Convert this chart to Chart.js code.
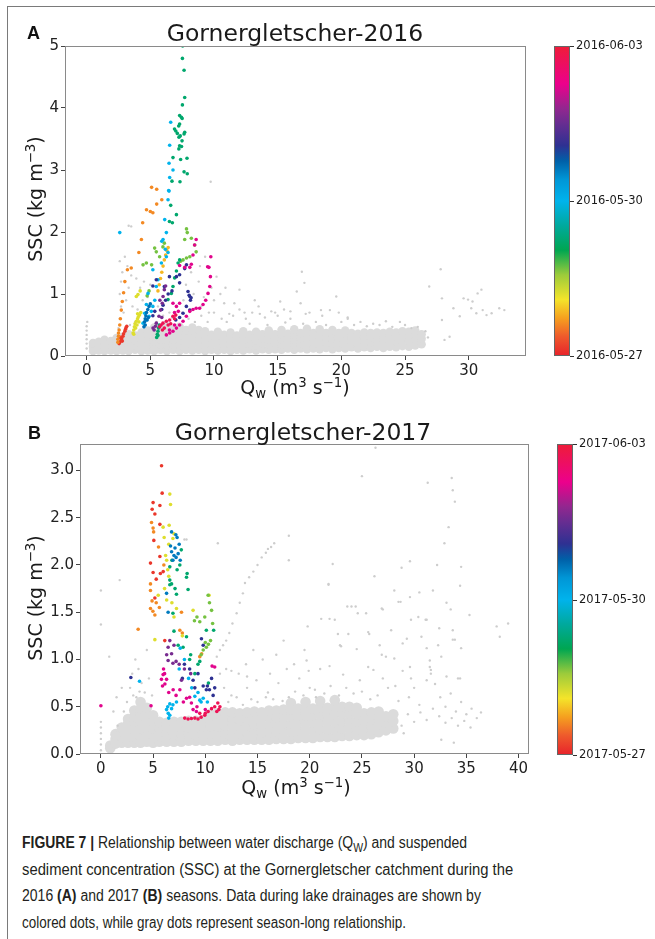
<!DOCTYPE html>
<html><head><meta charset="utf-8">
<script src="https://cdn.jsdelivr.net/npm/chart.js@4.4.0/dist/chart.umd.min.js"></script>
<style>
body{margin:0;width:655px;height:939px;position:relative;background:#fff;overflow:hidden;font-family:'DejaVu Sans',sans-serif;color:#222;}
.abs{position:absolute;white-space:nowrap;}
#frame{left:7px;top:6px;width:700px;height:1000px;border-left:1.5px solid #7a7a7a;border-top:1.5px solid #7a7a7a;}
.ttl{font-size:23.5px;transform:translate(-50%,-50%);line-height:1.2;color:#1a1a1a;}
.pl{font-family:'Liberation Sans',Arial,sans-serif;font-weight:bold;font-size:18px;line-height:1;color:#111;}
.xt{font-size:19px;transform:translate(-50%,-50%);line-height:1.2;color:#1a1a1a;}
.yt{font-size:19px;transform:translate(-50%,-50%) rotate(-90deg);line-height:1.2;color:#1a1a1a;}
.sp{font-size:70%;position:relative;top:-0.5em;}
.sb{font-size:70%;position:relative;top:0.3em;}
.cbar{box-sizing:border-box;border:1px solid #666;}
.cbl{font-size:11.5px;line-height:1;transform:translateY(-50%);color:#1a1a1a;}
.cbt{height:1px;width:4px;background:#333;}
.cap{left:22px;font-family:'Liberation Sans',Arial,sans-serif;font-size:16px;line-height:20px;color:#231f20;transform-origin:0 0;}
.cap b{font-weight:bold;}
canvas{position:absolute;left:0;}
</style></head>
<body>
<div id="frame" class="abs"></div>
<canvas id="cA" width="655" height="400" style="top:0"></canvas>
<canvas id="cB" width="655" height="420" style="top:400px"></canvas>

<div class="abs pl" style="left:27px;top:24px">A</div>
<div class="abs ttl" style="left:295px;top:33px">Gornergletscher-2016</div>
<div class="abs yt" style="left:35px;top:199px">SSC (kg m<span class="sp">−3</span>)</div>
<div class="abs xt" style="left:295px;top:387px">Q<span class="sb">w</span> (m<span class="sp">3</span> s<span class="sp">−1</span>)</div>

<div class="abs pl" style="left:28px;top:424px">B</div>
<div class="abs ttl" style="left:303px;top:432px">Gornergletscher-2017</div>
<div class="abs yt" style="left:35px;top:598px">SSC (kg m<span class="sp">−3</span>)</div>
<div class="abs xt" style="left:296px;top:787px">Q<span class="sb">w</span> (m<span class="sp">3</span> s<span class="sp">−1</span>)</div>

<div class="abs cap" style="top:833px;transform:scaleX(0.872)"><b>FIGURE 7 |</b> Relationship between water discharge (Q<span class="sb" style="font-size:75%">W</span>) and suspended</div>
<div class="abs cap" style="top:859.5px;transform:scaleX(0.925)">sediment concentration (SSC) at the Gornergletscher catchment during the</div>
<div class="abs cap" style="top:886px;transform:scaleX(0.876)">2016 <b>(A)</b> and 2017 <b>(B)</b> seasons. Data during lake drainages are shown by</div>
<div class="abs cap" style="top:912.5px;transform:scaleX(0.84)">colored dots, while gray dots represent season-long relationship.</div>

<script>
// ---------- tick labels ----------
const xTicksA = [0,5,10,15,20,25,30];
const yTicksA = [0,1,2,3,4,5];
const xTicksB = [0,5,10,15,20,25,30,35,40];
const yTicksB = [0,0.5,1,1.5,2,2.5,3];
const cbarLabelsA = ['2016-05-27','2016-05-30','2016-06-03'];
const cbarLabelsB = ['2017-05-27','2017-05-30','2017-06-03'];
const cbarTickPos = [0,0.5,1];

// ---------- colormap stops (style) ----------
const cmapStops = [[0,'#e8252b'],[0.06,'#ee5a2c'],[0.12,'#f5a01f'],[0.18,'#f4e42a'],[0.26,'#9ccb3b'],[0.34,'#00a651'],[0.42,'#00a99d'],[0.5,'#00b3ec'],[0.57,'#0096d6'],[0.63,'#0060a8'],[0.68,'#2e3192'],[0.75,'#662d91'],[0.8,'#92278f'],[0.88,'#ec008c'],[1,'#ee1c3a']];

// ---------- Panel A: lake drainage (colored) ----------
const A_red_t = 0.02;
const A_red = [[2.6,0.22],[2.7,0.25],[2.75,0.28],[2.85,0.32],[2.9,0.36],[3.0,0.4],[3.05,0.43],[3.1,0.46],[3.15,0.48],[2.65,0.3],[2.8,0.24],[2.55,0.2]];
const A_orange_t = 0.1;
const A_orange = [[2.45,0.22],[2.45,0.27],[2.5,0.32],[2.5,0.37],[2.55,0.42],[2.6,0.5],[2.65,0.6],[2.72,0.74],[2.8,0.88],[2.9,1.02],[3.0,1.2],[3.2,1.39],[3.5,1.42],[4.1,1.67],[4.3,1.88],[4.4,2.15],[4.7,2.36],[5.2,2.31],[5.1,2.72],[5.5,2.69],[5.9,2.52],[5.5,2.45],[5.0,2.33]];
const A_orange2_t = 0.14;
const A_orange2 = [[5.6,1.05],[5.7,1.15],[5.8,1.25],[5.9,1.35],[6.0,1.45],[6.1,1.55],[6.2,1.63],[6.3,1.7],[6.4,1.75]];
const A_yellow_t = 0.2;
const A_yellow = [[3.65,0.37],[3.7,0.42],[3.75,0.47],[3.8,0.52],[3.9,0.56],[4.0,0.6],[4.05,0.63],[4.15,0.66],[4.25,0.7],[3.85,0.45],[3.95,0.5],[4.1,0.55],[3.9,0.96],[4.03,0.99],[4.2,1.05],[3.7,0.35],[4.0,0.68]];
const A_lime_t = 0.28;
const A_lime = [[4.43,1.47],[4.69,1.5],[5.34,1.74],[5.47,1.68],[5.73,1.6],[5.99,1.76],[6.1,1.82],[7.38,1.53],[7.57,1.55],[7.84,1.58],[8.1,1.6],[7.7,1.88],[7.9,1.99],[7.84,2.05],[8.22,1.9],[8.48,1.79],[8.6,1.68],[4.75,0.97],[4.9,1.05],[5.1,1.47]];
const A_green_t = 0.37;
const A_green = [[7.54,5.0],[7.52,4.8],[7.65,4.61],[7.7,4.17],[7.52,4.05],[7.3,3.88],[7.44,3.85],[7.5,3.83],[7.3,3.74],[7.23,3.71],[6.9,3.66],[7.0,3.63],[7.12,3.59],[7.25,3.53],[7.35,3.55],[7.7,3.61],[7.65,3.58],[7.49,3.47],[7.3,3.39],[7.24,3.34],[7.45,3.38],[6.78,3.2],[7.38,3.17],[7.88,3.19],[7.65,2.97],[7.9,2.94],[6.7,2.82],[7.33,2.81],[6.6,2.43],[6.5,2.17],[7.05,2.28],[6.73,2.15],[5.5,0.3],[5.55,0.35],[5.6,0.4],[5.65,0.45],[5.6,0.33],[5.7,0.5],[6.39,0.91],[6.65,1.01],[6.78,1.12],[6.91,1.26],[7.05,1.37],[7.18,1.5],[7.3,1.55]];
const A_cyan_t = 0.5;
const A_cyan = [[6.6,3.77],[6.52,3.4],[6.47,3.11],[6.78,3.0],[6.52,2.88],[6.44,2.67],[6.47,2.66],[6.39,2.52],[6.13,2.2],[6.26,1.99],[6.0,1.88],[5.9,1.85],[6.18,1.72],[6.39,1.67],[6.26,1.6],[5.87,1.5],[5.2,1.39],[5.6,1.23],[5.47,1.12],[4.82,1.01],[4.69,0.83],[4.56,0.69],[4.69,0.58],[4.43,0.53],[4.9,0.64],[5.08,0.72],[5.2,0.8],[5.35,0.9],[2.6,1.99]];
const A_blue_t = 0.61;
const A_blue = [[4.55,0.55],[4.6,0.6],[4.65,0.65],[4.7,0.7],[4.8,0.75],[4.9,0.8],[5.0,0.84],[4.6,0.5],[4.75,0.58],[4.85,0.62],[4.5,0.47]];
const A_navy_t = 0.68;
const A_navy = [[5.2,1.13],[5.47,1.23],[6.1,1.12],[6.5,1.28],[7.05,1.28],[7.3,1.31],[7.7,1.41],[7.84,1.47],[7.3,1.18],[7.96,1.04],[8.1,0.96],[8.2,0.94],[8.15,0.9],[8.05,0.98],[7.83,0.8],[8.1,0.74],[7.57,0.69],[7.3,0.62],[7.0,0.58],[5.9,0.75],[6.0,0.82],[6.2,0.9],[6.4,1.0],[6.7,1.05],[5.2,0.65],[5.35,0.72]];
const A_purple_t = 0.77;
const A_purple = [[5.21,0.45],[5.47,0.53],[5.68,0.64],[5.8,0.74],[5.94,0.85],[6.0,0.96],[6.1,1.07],[6.2,1.13],[5.75,0.9],[5.3,0.42],[5.4,0.48],[5.9,0.62]];
const A_magenta_t = 0.87;
const A_magenta = [[6.26,0.34],[6.52,0.37],[6.78,0.4],[7.05,0.45],[7.3,0.5],[7.57,0.56],[7.83,0.64],[8.1,0.72],[8.35,0.75],[8.6,0.77],[8.87,0.77],[9.14,0.83],[9.35,0.9],[9.53,1.01],[9.67,1.12],[9.72,1.28],[9.6,1.43],[9.75,1.6],[9.5,1.44],[6.78,0.85],[7.05,0.8],[7.3,0.85],[6.9,0.7],[7.2,0.72],[8.6,1.88],[8.48,1.79],[8.35,1.63],[8.22,1.48],[8.1,1.43],[7.7,1.43],[7.3,1.46],[6.5,0.42],[6.9,0.5]];
const A_pinkred_t = 0.96;
const A_pinkred = [[5.73,0.47],[5.99,0.53],[6.26,0.56],[6.52,0.58],[6.78,0.64],[5.85,0.5],[6.1,0.45],[6.4,0.5],[6.6,0.52],[6.9,0.6],[7.0,0.66],[5.95,0.42]];

// ---------- Panel A: season-long (gray) ----------
const A_grayBand = [
[0.5,[0.08,0.15,0.21]],[0.95,[0.09,0.17,0.23]],[1.4,[0.08,0.14,0.22,0.26]],[1.9,[0.09,0.17,0.24]],
[2.35,[0.08,0.16,0.23,0.29]],[2.85,[0.09,0.17,0.25,0.31]],[3.3,[0.08,0.15,0.23,0.3,0.35]],[3.8,[0.1,0.18,0.26,0.33]],
[4.3,[0.08,0.16,0.24,0.32,0.38]],[4.8,[0.09,0.18,0.26,0.34,0.41]],[5.3,[0.08,0.16,0.24,0.32,0.4,0.46]],[5.8,[0.1,0.19,0.27,0.35,0.42]],
[6.3,[0.08,0.17,0.25,0.33,0.41,0.48]],[6.8,[0.1,0.19,0.27,0.35,0.43]],[7.3,[0.08,0.17,0.25,0.33,0.41,0.47]],[7.8,[0.1,0.19,0.27,0.35,0.42]],
[8.3,[0.09,0.18,0.26,0.34,0.41,0.46]],[8.8,[0.1,0.19,0.27,0.35,0.42]],[9.3,[0.08,0.17,0.25,0.33,0.4]],[9.8,[0.1,0.19,0.27,0.34]],
[10.3,[0.09,0.18,0.26,0.33,0.39]],[10.8,[0.1,0.19,0.27,0.34]],[11.3,[0.08,0.17,0.25,0.32,0.38]],[11.8,[0.1,0.19,0.26,0.33]],
[12.3,[0.09,0.18,0.26,0.34,0.4]],[12.8,[0.11,0.2,0.27,0.34]],[13.3,[0.09,0.18,0.26,0.33,0.39]],[13.8,[0.11,0.2,0.28,0.35]],
[14.3,[0.1,0.19,0.27,0.34,0.41]],[14.8,[0.11,0.2,0.28,0.35]],[15.3,[0.1,0.19,0.27,0.35,0.42]],[15.8,[0.12,0.21,0.29,0.36]],
[16.3,[0.1,0.19,0.27,0.35,0.43]],[16.8,[0.12,0.21,0.29,0.37]],[17.3,[0.11,0.2,0.28,0.36,0.44]],[17.8,[0.12,0.21,0.29,0.37]],
[18.3,[0.11,0.2,0.28,0.36,0.43]],[18.8,[0.13,0.22,0.3,0.37]],[19.3,[0.11,0.2,0.28,0.36,0.42]],[19.8,[0.13,0.22,0.3,0.37]],
[20.3,[0.12,0.21,0.29,0.36,0.41]],[20.8,[0.14,0.23,0.3,0.37]],[21.3,[0.12,0.21,0.29,0.36]],[21.8,[0.14,0.23,0.31,0.38]],
[22.3,[0.13,0.22,0.3,0.37]],[22.8,[0.15,0.24,0.32,0.38]],[23.3,[0.13,0.22,0.3,0.37]],[23.8,[0.15,0.24,0.32,0.39]],
[24.3,[0.14,0.23,0.31,0.38]],[24.8,[0.16,0.25,0.33,0.4]],[25.3,[0.15,0.24,0.32,0.39]],[25.8,[0.17,0.26,0.34,0.41]],[26.3,[0.19,0.28,0.35]]
];
const A_graySparse = [[0,0.12],[0,0.2],[0,0.27],[0,0.34],[0,0.41],[0,0.48],[0.05,0.55],
[2.5,0.45],[2.6,0.6],[2.7,0.8],[2.6,1.0],[2.7,1.2],[2.6,1.53],[2.9,0.7],[3.1,0.9],[3.3,1.1],[3.5,1.3],[3.2,1.45],[3.5,2.09],[3.3,2.1],[3.8,0.55],[4.0,0.75],[4.2,1.1],[4.5,1.2],[4.8,0.95],[2.8,1.35],[3.0,1.6],
[3.4,0.5],[3.6,0.8],[3.9,1.25],[4.4,0.9],[5.0,1.15],[5.6,0.8],[6.2,0.55],[6.7,0.62],[7.6,0.9],[8.4,1.0],[9.0,0.8],[9.6,0.7],[10.6,0.6],[7.8,1.15],[8.9,1.45],[9.3,1.6],[10.0,0.9],[10.9,1.1],[11.6,0.85],
[5.5,0.55],[6,0.65],[6.5,0.7],[7,0.6],[7.5,0.7],[8,0.6],[8.5,0.55],[9,0.65],[9.5,0.55],[10,0.7],[10.2,1.28],[10.5,1.0],[10.8,0.85],[9.8,1.1],[9.2,0.95],[8.8,1.2],[8.2,1.35],[9.74,2.81],
[11,0.55],[11.5,0.65],[12,1.07],[12,0.75],[12.5,0.6],[13,0.7],[13.5,0.8],[14,0.62],[14.5,0.72],[15,0.65],[15.5,0.75],[16,0.6],[16.5,1.04],[16.9,1.36],[17.1,1.18],[16.8,0.85],[17.5,0.7],[18,0.55],[18.5,0.65],[19.1,0.74],[19.6,0.96],
[11.2,0.68],[12.4,0.7],[13.6,0.68],[14.8,0.7],[16.0,0.72],[17.2,0.68],[18.4,0.74],[19.8,0.7],[20.5,0.62],[12.8,0.52],[14.2,0.5],[15.6,0.54],[17.0,0.52],[18.8,0.5],[13.2,0.9],[15.2,0.88],
[20,0.55],[20.5,0.6],[21,0.5],[21.5,0.55],[22,0.48],[22.5,0.52],[23,0.5],[24,0.47],[25,0.5],[25.5,0.45],[26,0.47],[23.5,0.56],[24.6,0.55],
[26.9,1.12],[27.8,1.4],[27.9,0.93],[27.9,0.58],[28.1,0.26],[28.5,0.31],[28.8,0.77],[29.3,0.64],[29.6,0.93],[29.95,0.91],[30.3,0.88],[30.2,0.77],[30.6,0.69],[30.7,1.01],[31.0,1.07],[31.1,0.74],[31.4,0.66],[31.8,0.69],[32.4,0.77],[32.8,0.74],[26.6,0.4],[26.8,0.3]];

// ---------- Panel B: lake drainage (colored) ----------
const B_red_t = 0.02;
const B_red = [[5.81,3.05],[5.87,2.76],[5.0,2.66],[4.91,2.59],[5.17,2.54],[5.65,2.63],[5.65,2.43],[5.07,2.26],[4.75,2.02],[5.65,2.09],[5.97,1.93],[5.17,1.65],[6.12,1.2],[5.0,1.92],[5.3,1.85],[5.7,1.91]];
const B_orange_t = 0.1;
const B_orange = [[4.85,2.45],[5.0,2.39],[5.05,2.35],[5.52,2.19],[6.03,2.0],[4.75,1.8],[4.75,1.73],[4.75,1.54],[4.98,1.51],[5.17,1.47],[3.57,1.32],[7.56,1.31],[7.8,1.28],[9.47,1.03],[9.65,1.06],[7.72,1.5],[5.3,1.6],[5.6,1.55],[4.9,1.62]];
const B_yellow_t = 0.2;
const B_yellow = [[6.6,2.75],[6.67,2.64],[5.96,2.4],[6.54,2.42],[6.06,2.29],[6.5,2.22],[7.0,2.33],[6.2,2.1],[6.4,1.95],[6.5,1.88],[5.49,1.68],[6.3,1.63],[7.24,1.54],[8.83,1.52],[5.17,1.21],[10.36,1.68],[6.1,1.75],[6.8,1.6],[7.0,1.45],[7.8,1.25],[6.3,2.05],[6.9,2.28]];
const B_lime_t = 0.28;
const B_lime = [[9.47,1.4],[9.95,1.45],[10.6,1.52],[10.4,1.6],[10.7,1.38],[10.27,1.68],[9.8,1.1],[10.1,1.13],[10.3,1.16],[9.6,1.05],[10.0,1.18],[10.5,1.2],[8.96,1.41],[9.2,1.45]];
const B_green_t = 0.37;
const B_green = [[6.6,1.98],[7.56,2.0],[7.7,2.16],[8.26,1.91],[8.2,1.87],[8.35,1.74],[6.6,1.84],[6.6,1.79],[7.24,1.69],[6.77,1.8],[6.9,1.49],[10.1,1.31],[10.8,1.31],[8.2,1.24],[7.87,1.13],[9.47,0.98],[9.3,0.95],[7.0,1.3],[7.4,1.15],[8.6,1.05],[9.0,0.85],[10.3,0.75],[6.8,2.05],[7.3,1.95],[8.5,1.0],[7.1,1.75]];
const B_cyan_t = 0.5;
const B_cyan = [[6.29,0.47],[6.45,0.43],[6.6,0.41],[6.77,0.48],[6.9,0.52],[7.24,0.55],[6.6,0.53],[6.4,0.5],[6.5,0.38],[9.0,0.61],[9.47,0.57],[9.8,0.59],[3.7,0.77],[8.4,0.8],[8.7,0.7],[9.3,0.65],[9.6,0.55],[10.2,0.55],[7.5,0.9],[7.6,1.12],[8.0,1.0]];
const B_blue_t = 0.6;
const B_blue = [[6.77,2.35],[7.18,2.32],[7.3,2.29],[6.67,2.2],[6.77,2.14],[7.0,2.1],[7.2,2.08],[7.4,2.12],[7.6,2.05],[6.9,2.05],[6.29,1.7],[6.44,1.5],[7.1,2.18],[7.5,2.22]];
const B_navy_t = 0.68;
const B_navy = [[9.63,1.22],[9.8,1.15],[8.83,0.78],[9.3,0.85],[10.1,0.68],[10.4,0.68],[10.75,0.62],[10.2,0.72],[9.8,0.72],[2.87,0.81],[10.6,0.8],[10.9,0.7],[8.0,0.95],[8.5,0.9],[9.0,0.7],[7.8,0.8]];
const B_purple_t = 0.77;
const B_purple = [[6.6,1.2],[6.44,1.13],[6.77,1.06],[6.44,0.99],[6.9,0.96],[7.72,0.78],[7.2,0.98],[7.5,0.95],[8.0,0.9],[6.3,1.05],[7.0,1.15],[8.6,0.85]];
const B_magenta_t = 0.87;
const B_magenta = [[5.96,0.84],[6.29,0.79],[5.8,0.79],[6.13,0.74],[6.92,0.68],[7.56,0.68],[8.2,0.59],[8.67,0.54],[8.83,0.47],[9.15,0.45],[10.65,0.93],[10.9,0.92],[0.0,0.51],[4.8,0.51],[6.0,0.9],[6.5,0.65],[7.2,0.62],[7.9,0.55],[8.5,0.6],[9.2,0.5],[10.0,0.47],[6.1,0.85],[5.9,0.72]];
const B_pinkred_t = 0.96;
const B_pinkred = [[9.47,0.43],[9.95,0.41],[10.27,0.45],[10.6,0.48],[10.9,0.5],[11.2,0.54],[11.4,0.5],[11.1,0.45],[8.03,0.38],[8.35,0.37],[8.67,0.375],[9.0,0.38],[9.3,0.37],[9.6,0.39],[10.0,0.43],[11.3,0.47]];

// ---------- Panel B: season-long (gray) ----------
const B_grayBand = [
[0.9,[0.06,0.09]],[1.4,[0.11,0.16,0.21]],[2.0,[0.12,0.18,0.24,0.28]],[2.6,[0.12,0.19,0.26,0.32,0.37]],
[3.2,[0.12,0.19,0.26,0.33,0.4,0.46]],[3.8,[0.12,0.19,0.27,0.34,0.41,0.48,0.55]],[4.4,[0.13,0.2,0.27,0.35,0.42,0.49]],[5.0,[0.12,0.2,0.27,0.34,0.41]],
[5.6,[0.13,0.2,0.27,0.34]],[6.3,[0.13,0.21,0.28,0.33]],[7.0,[0.13,0.21,0.28,0.34]],[7.7,[0.13,0.21,0.28,0.34]],
[8.4,[0.14,0.21,0.28,0.35]],[9.1,[0.14,0.21,0.28,0.35]],[9.8,[0.14,0.22,0.29,0.36]],[10.5,[0.14,0.21,0.29,0.36,0.42]],
[11.2,[0.14,0.22,0.29,0.36,0.43]],[11.9,[0.15,0.22,0.3,0.37,0.44]],[12.6,[0.14,0.22,0.3,0.37,0.44]],[13.3,[0.15,0.22,0.29,0.36,0.43]],
[14.0,[0.15,0.23,0.3,0.37,0.44]],[14.7,[0.15,0.23,0.31,0.38,0.45]],[15.4,[0.15,0.23,0.3,0.38,0.44]],[16.1,[0.15,0.23,0.31,0.39,0.46]],
[16.8,[0.16,0.24,0.31,0.39,0.46]],[17.5,[0.16,0.24,0.32,0.4,0.47]],[18.2,[0.16,0.24,0.32,0.4,0.47,0.54]],[18.9,[0.17,0.25,0.33,0.41,0.48]],
[19.6,[0.17,0.25,0.33,0.41,0.48,0.55]],[20.3,[0.17,0.25,0.33,0.41,0.48]],[21.0,[0.18,0.26,0.34,0.42,0.49,0.56]],[21.7,[0.18,0.26,0.34,0.42,0.49]],
[22.4,[0.18,0.26,0.34,0.42,0.5,0.57]],[23.1,[0.19,0.27,0.35,0.43,0.5]],[23.8,[0.19,0.27,0.35,0.43,0.5]],[24.5,[0.2,0.27,0.35,0.43,0.49]],
[25.2,[0.2,0.28,0.36,0.43]],[25.9,[0.21,0.29,0.37,0.44]],[26.6,[0.23,0.31,0.39,0.45]],[27.3,[0.25,0.33,0.4]],[28.0,[0.27,0.35,0.42]]
];
const B_graySparse = [[0,0.04],[0,0.1],[0,0.16],[0,0.22],[0,0.28],[0,0.34],[0,1.37],[0,1.73],[0.8,1.03],[1.2,0.45],[1.5,0.6],[2.0,0.7],[1.8,1.84],
[2.8,0.7],[3.0,0.85],[3.3,1.0],[3.6,0.9],[3.9,0.75],[4.2,0.65],[4.4,1.1],[2.5,0.55],[3.4,0.6],[4.6,0.8],[3.1,0.62],[1.6,0.3],[2.2,0.45],[4.9,0.62],[3.7,0.66],
[11.1,1.03],[11.4,1.1],[11.7,1.15],[12.0,1.2],[12.3,1.28],[12.6,1.38],[13.0,1.49],[13.3,1.6],[13.6,1.7],[13.8,1.81],[14.2,1.87],[14.6,1.93],[15.0,2.0],[15.4,2.08],[15.8,2.13],[16.3,2.19],[16.6,2.23],[16.0,2.17],
[11.4,0.85],[12.0,0.9],[12.5,0.88],[13.2,0.85],[14.0,0.82],[14.9,0.78],[11.2,2.23],[18.0,2.31],[18.0,2.05],[21.8,1.8],[8.0,2.27],[8.2,2.27],
[13,0.6],[14,0.7],[15,0.55],[16,0.65],[17,0.75],[18,0.6],[19,0.8],[20,0.7],[15.5,1.0],[17.5,1.2],[19.5,1.1],[21,0.9],[18.5,0.95],[12.5,0.62],[16.5,0.58],
[12.2,0.55],[13.6,0.52],[14.4,0.58],[15.8,0.6],[17.4,0.56],[18.6,0.66],[19.4,0.62],[20.6,0.6],[13.9,0.95],[16.2,0.85],[17.8,0.9],[19.9,0.88],[11.8,0.7],[14.6,1.1],[16.8,1.05],
[26.3,3.24],[25.0,2.94],[31.3,2.87],[33.6,2.92],[33.7,2.79],[33.9,2.67],[33.3,2.4],[32.9,2.23],[29.6,2.04],[28.8,1.97],[32.2,2.0],[34.5,1.98],[22.2,2.01],[26.2,1.88],[28.1,1.73],[30.5,1.71],[31.8,1.73],[34.4,1.78],
[27.0,1.53],[29.6,1.66],[28.5,1.61],[24.0,1.56],[24.6,1.49],[35.3,1.47],[37.9,1.35],[39.0,1.38],[38.2,1.24],[31.2,1.42],[30.4,1.45],[33.7,1.31],[33.9,1.21],[34.5,1.12],[32.3,1.15],[28.9,1.17],[26.7,1.15],[22.9,1.15],[23.7,1.27],[21.9,1.43],[25.6,1.29],
[27.3,1.03],[31.5,0.99],[26.1,0.89],[28.9,0.88],[31.5,0.92],[33.1,0.82],[34.4,0.8],[21.8,1.79],[23.6,1.56],[24.4,1.56],[26.9,1.54],[28.7,1.61],[33.1,1.6],[33.5,1.53],[21.1,1.43],[22.4,1.42],[25.4,1.49],[29.7,1.42],[31.1,1.42],[19.8,1.35],
[22.7,1.27],[25.7,1.27],[27.8,1.31],[32.4,1.33],[29.3,1.22],[30.7,1.24],[33.7,1.21],[31.2,1.12],[23.0,1.14],[24.5,1.11],[26.9,1.05],[28.1,1.01],[32.6,1.03],[19.7,0.99],[21.9,0.93],[25.6,0.92],[29.6,0.92],[31.6,0.89],[34.2,0.8],[29.7,0.8],
[20.5,0.68],[22.0,0.72],[23.5,0.7],[25.0,0.66],[26.5,0.62],[27.5,0.7],[28.5,0.56],[29.5,0.6],[30.5,0.52],[31.2,0.78],[31.6,0.85],[32.0,0.74],[32.5,0.6],[33.0,0.5],[33.5,0.64],[34.0,0.45],[34.5,0.55],[35.0,0.42],[35.5,0.48],[36.0,0.38],[36.4,0.44],
[21.4,0.64],[22.8,0.62],[24.2,0.64],[25.8,0.58],[23.2,0.84],[24.8,0.78],[27.0,0.8],[28.2,0.72],[30.0,0.7],
[28.8,0.3],[29.4,0.42],[30.0,0.34],[30.6,0.44],[31.2,0.36],[31.8,0.48],[32.4,0.4],[33.0,0.33],[33.6,0.38],[34.2,0.3],[34.8,0.35],[35.4,0.28],[29.0,0.22],[32.6,0.15],[33.8,0.12]];

// ---------- helpers ----------
function hex2rgb(h){return [parseInt(h.slice(1,3),16),parseInt(h.slice(3,5),16),parseInt(h.slice(5,7),16)];}
function cmap(t){
  for(let i=0;i<cmapStops.length-1;i++){
    const [t0,c0]=cmapStops[i],[t1,c1]=cmapStops[i+1];
    if(t>=t0&&t<=t1){const f=(t-t0)/(t1-t0),a=hex2rgb(c0),b=hex2rgb(c1);
      return 'rgb('+a.map((v,k)=>Math.round(v+(b[k]-v)*f)).join(',')+')';}
  }
  return cmapStops[cmapStops.length-1][1];
}
const toPts = arr => arr.map(p=>({x:p[0],y:p[1]}));
const bandPts = band => { const out=[]; band.forEach(c=>c[1].forEach(y=>out.push({x:c[0],y:y}))); return out; };

const spines = {id:'spines', afterDraw(c){const a=c.chartArea,x=c.ctx;x.save();x.strokeStyle='#8a8a8a';x.lineWidth=1;
  x.strokeRect(Math.round(a.left)+0.5,Math.round(a.top)+0.5,Math.round(a.right-a.left)-1,Math.round(a.bottom-a.top)-1);x.restore();}};

function makeChart(id, groups, band, sparse, cfg){
  const ds=[];
  groups.forEach(g=>ds.push({data:toPts(g[0]),backgroundColor:cmap(g[1]),borderWidth:0,pointRadius:1.8,pointHoverRadius:1.8,order:0}));
  ds.push({data:toPts(sparse),backgroundColor:'rgb(205,205,205)',borderWidth:0,pointRadius:1.2,order:5});
  ds.push({data:bandPts(band),backgroundColor:'rgb(219,219,219)',borderWidth:0,pointRadius:cfg.bandR,order:6});
  const tickFont={family:'DejaVu Sans',size:15};
  new Chart(document.getElementById(id),{type:'scatter',data:{datasets:ds},
    options:{responsive:false,animation:false,devicePixelRatio:1,
      layout:{padding:cfg.pad},
      plugins:{legend:{display:false},tooltip:{enabled:false}},
      scales:{
        x:{type:'linear',min:cfg.xmin,max:cfg.xmax,
          afterBuildTicks:s=>{s.ticks=cfg.xt.map(v=>({value:v}));},
          afterFit:s=>{s.height=30;},
          grid:{display:true,drawOnChartArea:false,drawTicks:true,tickLength:4,color:'#444'},
          border:{display:false},
          ticks:{font:tickFont,color:'#222',padding:2,maxRotation:0,autoSkip:false,callback:v=>String(v)}},
        y:{type:'linear',min:cfg.ymin,max:cfg.ymax,
          afterBuildTicks:s=>{s.ticks=cfg.yt.map(v=>({value:v}));},
          afterFit:s=>{s.width=cfg.yw;},
          grid:{display:true,drawOnChartArea:false,drawTicks:true,tickLength:4,color:'#444'},
          border:{display:false},
          ticks:{font:tickFont,color:'#222',padding:2,autoSkip:false,callback:cfg.yfmt}}
      }},
    plugins:[spines]});
}

makeChart('cA',
  [[A_pinkred,A_pinkred_t],[A_magenta,A_magenta_t],[A_purple,A_purple_t],[A_navy,A_navy_t],[A_blue,A_blue_t],[A_cyan,A_cyan_t],[A_green,A_green_t],[A_lime,A_lime_t],[A_yellow,A_yellow_t],[A_orange2,A_orange2_t],[A_orange,A_orange_t],[A_red,A_red_t]],
  A_grayBand, A_graySparse,
  {xmin:-1.7,xmax:34.5,ymin:0,ymax:5,xt:xTicksA,yt:yTicksA,yw:65,bandR:4.3,pad:{left:0,top:46,right:129,bottom:14},yfmt:v=>String(v)});
makeChart('cB',
  [[B_pinkred,B_pinkred_t],[B_magenta,B_magenta_t],[B_purple,B_purple_t],[B_navy,B_navy_t],[B_blue,B_blue_t],[B_cyan,B_cyan_t],[B_green,B_green_t],[B_lime,B_lime_t],[B_yellow,B_yellow_t],[B_orange,B_orange_t],[B_red,B_red_t]],
  B_grayBand, B_graySparse,
  {xmin:-2,xmax:41,ymin:0,ymax:3.28,xt:xTicksB,yt:yTicksB,yw:80,bandR:5.3,pad:{left:0,top:44,right:126,bottom:36},yfmt:v=>v.toFixed(1)});

// ---------- colorbars ----------
function colorbar(left,top,w,h,labels){
  const grad='linear-gradient(to top,'+cmapStops.map(s=>s[1]+' '+(s[0]*100)+'%').join(',')+')';
  const d=document.createElement('div');d.className='abs cbar';
  d.style.cssText=`left:${left}px;top:${top}px;width:${w}px;height:${h}px;background:${grad}`;
  document.body.appendChild(d);
  labels.forEach((lab,i)=>{
    const y=top+h-cbarTickPos[i]*h;
    const t=document.createElement('div');t.className='abs cbt';t.style.cssText=`left:${left+w}px;top:${Math.round(y)}px`;document.body.appendChild(t);
    const l=document.createElement('div');l.className='abs cbl';l.style.cssText=`left:${left+w+6}px;top:${y}px`;l.textContent=lab;document.body.appendChild(l);
  });
}
colorbar(554,46,16,310,cbarLabelsA);
colorbar(557,444,16,311,cbarLabelsB);
</script>
</body></html>
